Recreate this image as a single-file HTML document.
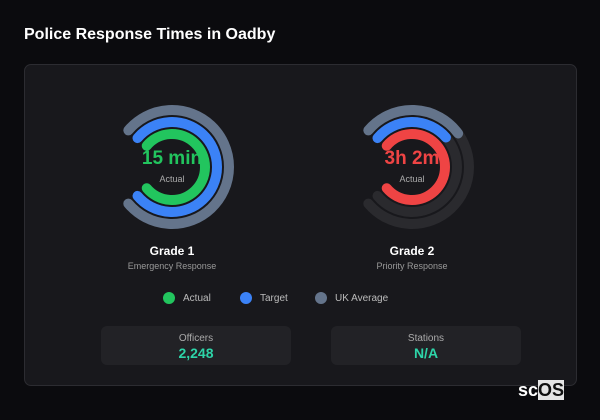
<!DOCTYPE html>
<html><head><style>
body{margin:0;width:600px;height:420px;background:#0b0b0e;font-family:"Liberation Sans",sans-serif;position:relative;overflow:hidden}
.t{position:absolute;left:24px;top:26px;color:#fff;font-weight:bold;font-size:16px}
.panel{position:absolute;left:24px;top:64px;width:551px;height:320px;background:#18181c;border:1px solid #2c2c31;border-radius:7px}
.txt{position:absolute;text-align:center;transform:translateX(-50%);white-space:nowrap}
.card{position:absolute;top:326px;width:190px;height:39px;background:#222226;border-radius:6px;text-align:center}
.card .l{color:#aaa;font-size:10px;margin-top:7px}
.card .v{color:#2dd4a8;font-size:14px;font-weight:bold;margin-top:1px}
.lg{position:absolute;top:292px;font-size:10px;color:#bbb;display:flex;align-items:center}
.lg i{display:inline-block;width:12px;height:12px;border-radius:50%;margin-right:8px}
</style></head><body>
<div class="t">Police Response Times in Oadby</div>
<div class="panel"></div>
<svg id="s" width="600" height="420" style="position:absolute;left:0;top:0"></svg>
<div class="txt" style="left:172px;top:148px;color:#22c55e;font-size:19px;font-weight:bold">15 min</div>
<div class="txt" style="left:172px;top:174px;color:#aaa;font-size:9px">Actual</div>
<div class="txt" style="left:412px;top:148px;color:#ef4444;font-size:19px;font-weight:bold">3h 2m</div>
<div class="txt" style="left:412px;top:174px;color:#aaa;font-size:9px">Actual</div>
<div class="txt" style="left:172px;top:244px;color:#fff;font-size:12px;font-weight:bold">Grade 1</div>
<div class="txt" style="left:172px;top:261px;color:#999;font-size:9px">Emergency Response</div>
<div class="txt" style="left:412px;top:244px;color:#fff;font-size:12px;font-weight:bold">Grade 2</div>
<div class="txt" style="left:412px;top:261px;color:#999;font-size:9px">Priority Response</div>
<div class="lg" style="left:163px"><i style="background:#22c55e"></i>Actual</div>
<div class="lg" style="left:240px"><i style="background:#3b82f6"></i>Target</div>
<div class="lg" style="left:315px"><i style="background:#64748b"></i>UK Average</div>
<div class="card" style="left:101px"><div class="l">Officers</div><div class="v">2,248</div></div>
<div class="card" style="left:331px"><div class="l">Stations</div><div class="v">N/A</div></div>
<div style="position:absolute;left:518px;top:380px;font-size:18px;font-weight:bold;color:#fff">sc<span style="background:#e5e5e5;color:#111">OS</span></div>
<script>
function arc(cx,cy,r,a0,a1,col,w){
 const p=a=>[cx+r*Math.sin(a*Math.PI/180),cy-r*Math.cos(a*Math.PI/180)];
 const [x0,y0]=p(a0),[x1,y1]=p(a1);const large=(a1-a0)>180?1:0;
 return `<path d="M${x0} ${y0}A${r} ${r} 0 ${large} 1 ${x1} ${y1}" fill="none" stroke="${col}" stroke-width="${w}" stroke-linecap="round"/>`;
}
let h='';const tr='#2a2a2e';
h+=arc(172,167,57,-50,230,'#64748b',10);
h+=arc(172,167,45,-50,230,'#3b82f6',10);
h+=arc(172,167,33,-50,230,'#22c55e',10);
h+=arc(412,167,57,-50,230,tr,10);
h+=arc(412,167,45,-50,230,tr,10);
h+=arc(412,167,57,-50,54,'#64748b',10);
h+=arc(412,167,45,-50,49,'#3b82f6',10);
h+=arc(412,167,33,-50,230,'#ef4444',10);
document.getElementById('s').innerHTML=h;
</script>
</body></html>
